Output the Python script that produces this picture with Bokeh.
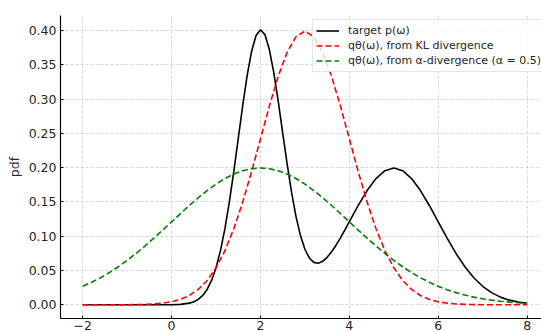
from bokeh.plotting import figure
from bokeh.models import FixedTicker, Range1d
from bokeh.embed import file_html
from bokeh.resources import INLINE

# target p(w)
target_x = [-2.0, -1.0, 0.0, 0.2, 0.4, 0.5, 0.6, 0.7, 0.8, 0.9, 1.0, 1.1, 1.2, 1.3, 1.4, 1.5,
            1.6, 1.7, 1.8, 1.9, 2.0, 2.1, 2.2, 2.3, 2.4, 2.5, 2.6, 2.7, 2.8, 2.9, 3.0, 3.1,
            3.2, 3.3, 3.4, 3.5, 3.6, 3.7, 3.8, 3.9, 4.0, 4.2, 4.4, 4.6, 4.8, 5.0, 5.2, 5.4,
            5.6, 5.8, 6.0, 6.2, 6.4, 6.6, 6.8, 7.0, 7.2, 7.4, 7.6, 7.8, 8.0]
target_y = [0.0, 0.0, 0.00013, 0.0006, 0.00239, 0.00444, 0.00793, 0.0136, 0.02242, 0.03552,
            0.05406, 0.07905, 0.11107, 0.14994, 0.1945, 0.24241, 0.29031, 0.33408, 0.36946,
            0.39268, 0.40116, 0.39402, 0.37223, 0.33843, 0.29648, 0.25074, 0.20539, 0.1639,
            0.12866, 0.10094, 0.08099, 0.06828, 0.06187, 0.06061, 0.06338, 0.06919, 0.07725,
            0.08692, 0.09771, 0.10922, 0.12112, 0.14487, 0.16661, 0.18414, 0.19552, 0.19947,
            0.19552, 0.18414, 0.16661, 0.14485, 0.12099, 0.09709, 0.07486, 0.05546, 0.03947,
            0.027, 0.01774, 0.0112, 0.00679, 0.00396, 0.00222]

grid_x = [-2.0, -1.8, -1.6, -1.4, -1.2, -1.0, -0.8, -0.6, -0.4, -0.2, 0.0, 0.2, 0.4, 0.6,
          0.8, 1.0, 1.2, 1.4, 1.6, 1.8, 2.0, 2.2, 2.4, 2.6, 2.8, 3.0, 3.2, 3.4, 3.6, 3.8,
          4.0, 4.2, 4.4, 4.6, 4.8, 5.0, 5.2, 5.4, 5.6, 5.8, 6.0, 6.2, 6.4, 6.6, 6.8, 7.0,
          7.2, 7.4, 7.6, 7.8, 8.0]
# q from KL divergence
kl_y = [0.0, 0.0, 0.00001, 0.00002, 0.00006, 0.00013, 0.00029, 0.00061, 0.00123, 0.00238,
        0.00443, 0.00792, 0.01358, 0.02239, 0.03547, 0.05399, 0.07895, 0.11092, 0.14973,
        0.19419, 0.24197, 0.28969, 0.33322, 0.36827, 0.39104, 0.39894, 0.39104, 0.36827,
        0.33322, 0.28969, 0.24197, 0.19419, 0.14973, 0.11092, 0.07895, 0.05399, 0.03547,
        0.02239, 0.01358, 0.00792, 0.00443, 0.00238, 0.00123, 0.00061, 0.00029, 0.00013,
        0.00006, 0.00002, 0.00001, 0.0, 0.0]
# q from alpha divergence
alpha_y = [0.027, 0.03281, 0.03948, 0.04703, 0.05546, 0.06476, 0.07487, 0.08569, 0.0971,
           0.10893, 0.12099, 0.13305, 0.14485, 0.15613, 0.16661, 0.17604, 0.18414, 0.1907,
           0.19552, 0.19848, 0.19947, 0.19848, 0.19552, 0.1907, 0.18414, 0.17604, 0.16661,
           0.15613, 0.14485, 0.13305, 0.12099, 0.10893, 0.0971, 0.08569, 0.07487, 0.06476,
           0.05546, 0.04703, 0.03948, 0.03281, 0.027, 0.02199, 0.01774, 0.01417, 0.0112,
           0.00877, 0.00679, 0.00521, 0.00396, 0.00298, 0.00222]

x_ticks = [-2, 0, 2, 4, 6, 8]
x_tick_labels = ["\u22122", "0", "2", "4", "6", "8"]
y_ticks = [0.0, 0.05, 0.10, 0.15, 0.20, 0.25, 0.30, 0.35, 0.40]
y_tick_labels = ["0.00", "0.05", "0.10", "0.15", "0.20", "0.25", "0.30", "0.35", "0.40"]

labels = ["target p(\u03c9)", "q\u03b8(\u03c9), from KL divergence",
          "q\u03b8(\u03c9), from \u03b1-divergence (\u03b1 = 0.5)"]

FONT = "DejaVu Sans"
TXT = "#262626"

p = figure(width=541, height=332, output_backend="svg", toolbar_location=None,
           x_range=Range1d(-2.5, 8.324), y_range=Range1d(-0.01998, 0.42187),
           min_border_left=60, min_border_right=0, min_border_top=15, min_border_bottom=8)
p.outline_line_color = None
p.background_fill_color = "white"

p.line(target_x, target_y, color="black", line_width=1.6, legend_label=labels[0])
p.line(grid_x, kl_y, color="#ff0000", line_width=1.6, line_dash="6 3", legend_label=labels[1])
p.line(grid_x, alpha_y, color="#008000", line_width=1.6, line_dash="6 3", legend_label=labels[2])

for ax in (p.xaxis[0], p.yaxis[0]):
    ax.axis_line_color = "black"
    ax.axis_line_width = 1.2
    ax.major_tick_line_color = "black"
    ax.major_tick_out = 0
    ax.major_tick_in = 3
    ax.minor_tick_out = 0
    ax.minor_tick_in = 0
    ax.major_label_text_font = FONT
    ax.major_label_text_font_size = "12.5px"
    ax.major_label_text_color = TXT

p.xaxis.ticker = FixedTicker(ticks=x_ticks)
p.xaxis.major_label_overrides = {t: l for t, l in zip(x_ticks, x_tick_labels)}
p.xaxis.major_label_standoff = 2
p.yaxis.ticker = FixedTicker(ticks=y_ticks)
p.yaxis.major_label_overrides = {t: l for t, l in zip(y_ticks, y_tick_labels)}
p.yaxis.major_label_standoff = 4

p.yaxis.axis_label = "pdf"
p.yaxis.axis_label_text_font = FONT
p.yaxis.axis_label_text_font_size = "12.5px"
p.yaxis.axis_label_text_font_style = "normal"
p.yaxis.axis_label_text_color = TXT
p.yaxis.axis_label_standoff = 4

for g in (p.xgrid[0], p.ygrid[0]):
    g.grid_line_color = "#cccccc"
    g.grid_line_width = 0.8
    g.grid_line_dash = "3 2"
p.xgrid.ticker = FixedTicker(ticks=x_ticks)
p.ygrid.ticker = FixedTicker(ticks=y_ticks)

lg = p.legend[0]
lg.location = (252, 246)
lg.label_text_font = FONT
lg.label_text_font_size = "11px"
lg.label_text_color = TXT
lg.label_height = 15
lg.glyph_height = 15
lg.glyph_width = 23
lg.label_standoff = 9
lg.spacing = 0
lg.padding = 3
lg.margin = 0
lg.border_line_color = "#cccccc"
lg.border_line_width = 1
lg.background_fill_color = "white"
lg.background_fill_alpha = 0.8

open("out.html", "w").write(file_html(p, INLINE))
